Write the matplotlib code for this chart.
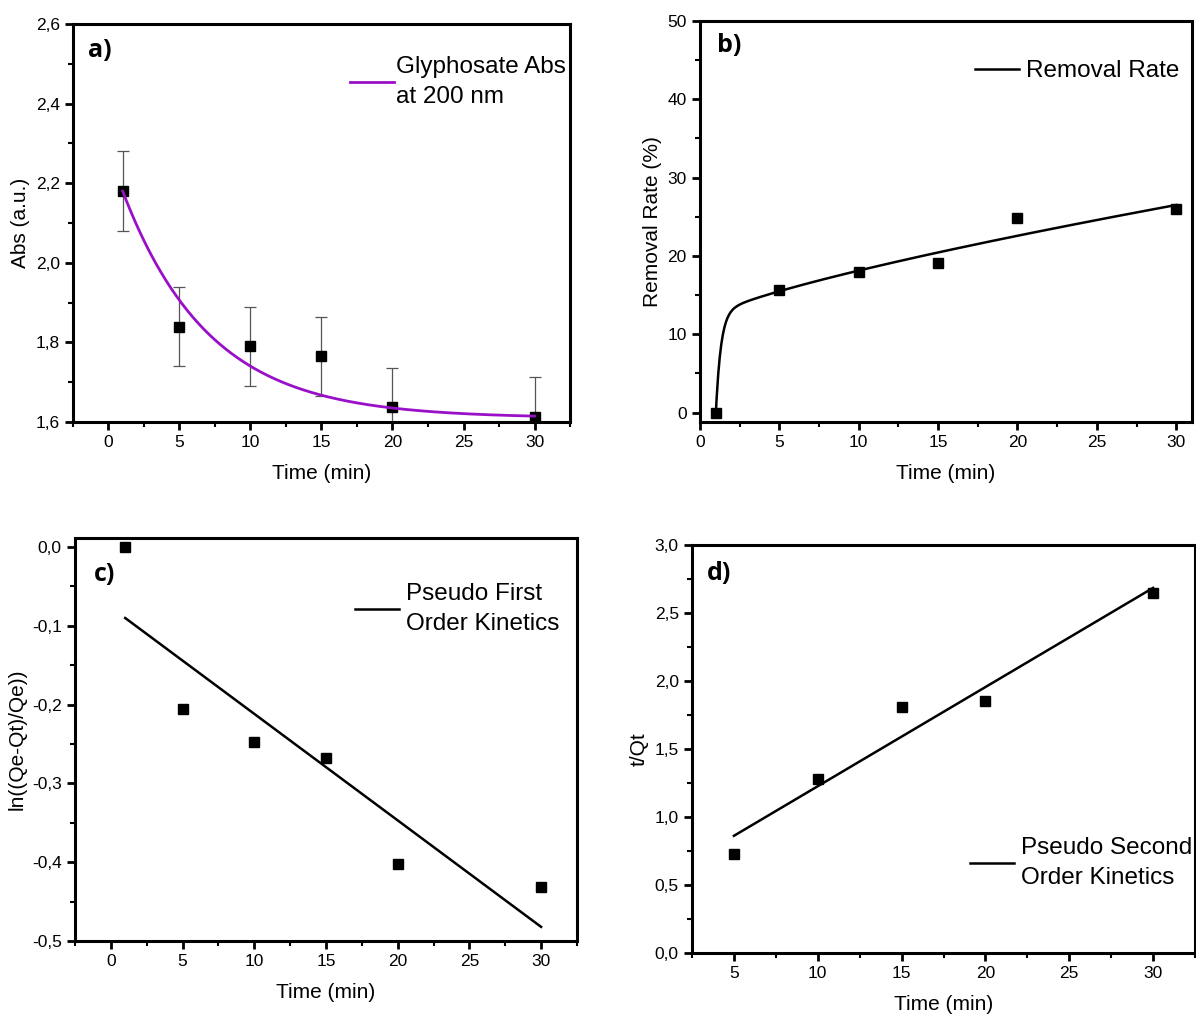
import numpy as np
import matplotlib
matplotlib.use("Agg")
import matplotlib.pyplot as plt
from matplotlib.ticker import MultipleLocator, FuncFormatter

plt.rcParams['font.family'] = ['Liberation Sans', 'DejaVu Sans']

# ------------------------
# data
# ------------------------
# a) glyphosate absorbance at 200 nm
time_a = [1, 5, 10, 15, 20, 30]
abs_a = [2.18, 1.84, 1.79, 1.765, 1.637, 1.613]
abs_err = [0.1, 0.1, 0.1, 0.1, 0.1, 0.1]
# exponential decay fit: y0 + A*exp(-(t-1)/tau)
fit_a_y0, fit_a_amp, fit_a_tau = 1.61, 0.57, 6.1

# b) removal rate
time_b = [1, 5, 10, 15, 20, 30]
removal_b = [0.0, 15.7, 18.0, 19.1, 24.9, 26.0]
# fit: A*(1-exp(-k(t-1))) + c*(t-1)^m
fit_b_amp, fit_b_k, fit_b_c, fit_b_m = 12.5, 3.2, 1.02, 0.778

# c) pseudo first order
time_c = [1, 5, 10, 15, 20, 30]
ln_c = [0.0, -0.205, -0.247, -0.268, -0.402, -0.432]

# d) pseudo second order
time_d = [5, 10, 15, 20, 30]
tq_d = [0.73, 1.28, 1.81, 1.85, 2.65]

LEG_FS = 17.5


def comma_fmt(decimals):
    return FuncFormatter(lambda v, p: f"{v:.{decimals}f}".replace(".", ","))


def style_axes(ax, xmaj, xmin, ymaj, ymin):
    for sp in ax.spines.values():
        sp.set_linewidth(2.2)
    ax.xaxis.set_major_locator(MultipleLocator(xmaj))
    ax.xaxis.set_minor_locator(MultipleLocator(xmin))
    ax.yaxis.set_major_locator(MultipleLocator(ymaj))
    ax.yaxis.set_minor_locator(MultipleLocator(ymin))
    ax.tick_params(which='major', direction='out', length=6, width=2,
                   labelsize=12.5, top=False, right=False)
    ax.tick_params(which='minor', direction='out', length=3.5, width=1.5,
                   top=False, right=False)
    ax.set_xlabel("Time (min)", fontsize=15, labelpad=10)


def add_legend(ax, x, y, pad=0.3):
    leg = ax.legend(loc='center left', bbox_to_anchor=(x, y), frameon=False,
                    fontsize=LEG_FS, handlelength=1.8, handletextpad=pad,
                    borderpad=0, borderaxespad=0)
    for t in leg.get_texts():
        t.set_linespacing(1.45)


def panel_label(ax, txt, x, y):
    ax.text(x, y, txt, transform=ax.transAxes, fontsize=18, fontweight='bold',
            family='Open Sans', ha='left', va='top')


fig = plt.figure(figsize=(11.96, 10.17), dpi=100)
ax_a = fig.add_axes([0.061, 0.585, 0.4156, 0.3914])
ax_b = fig.add_axes([0.5853, 0.585, 0.4114, 0.3944])
ax_c = fig.add_axes([0.0627, 0.0747, 0.4197, 0.3963])
ax_d = fig.add_axes([0.5786, 0.0629, 0.4206, 0.4012])

# ---- a)
ax_a.errorbar(time_a, abs_a, yerr=abs_err, fmt='none', ecolor='#555555',
              elinewidth=0.9, capsize=4.5, capthick=0.9, zorder=2)
ax_a.plot(time_a, abs_a, 's', color='black', markersize=7, zorder=3)
tt = np.linspace(time_a[0], time_a[-1], 300)
ax_a.plot(tt, fit_a_y0 + fit_a_amp * np.exp(-(tt - 1) / fit_a_tau),
          color='#9A0FC8', lw=2.0, label="Glyphosate Abs\nat 200 nm", zorder=4)
ax_a.set_xlim(-2.5, 32.5)
ax_a.set_ylim(1.6, 2.6)
style_axes(ax_a, 5, 2.5, 0.2, 0.1)
ax_a.yaxis.set_major_formatter(comma_fmt(1))
ax_a.set_ylabel("Abs (a.u.)", fontsize=15)
add_legend(ax_a, 0.557, 0.855, pad=0.1)
panel_label(ax_a, "a)", 0.03, 0.965)

# ---- b)
ax_b.plot(time_b, removal_b, 's', color='black', markersize=7, zorder=3)
tb = np.linspace(time_b[0], time_b[-1], 600)
fit_b = fit_b_amp * (1 - np.exp(-fit_b_k * (tb - 1))) + fit_b_c * (tb - 1) ** fit_b_m
ax_b.plot(tb, fit_b, color='black', lw=1.8, label="Removal Rate")
ax_b.set_xlim(0, 31)
ax_b.set_ylim(-1.2, 50)
style_axes(ax_b, 5, 2.5, 10, 5)
ax_b.set_ylabel("Removal Rate (%)", fontsize=15)
add_legend(ax_b, 0.559, 0.875)
panel_label(ax_b, "b)", 0.035, 0.97)

# ---- c)
ax_c.plot(time_c, ln_c, 's', color='black', markersize=7, zorder=3)
kc = np.polyfit(time_c, ln_c, 1)
xc = np.array([time_c[0], time_c[-1]])
ax_c.plot(xc, np.polyval(kc, xc), color='black', lw=1.8,
          label="Pseudo First\nOrder Kinetics")
ax_c.set_xlim(-2.5, 32.5)
ax_c.set_ylim(-0.5, 0.0115)
style_axes(ax_c, 5, 2.5, 0.1, 0.05)
ax_c.yaxis.set_major_formatter(comma_fmt(1))
ax_c.set_ylabel("ln((Qe-Qt)/Qe))", fontsize=15)
add_legend(ax_c, 0.558, 0.824)
panel_label(ax_c, "c)", 0.038, 0.94)

# ---- d)
ax_d.plot(time_d, tq_d, 's', color='black', markersize=7, zorder=3)
kd = np.polyfit(time_d, tq_d, 1)
xd = np.array([time_d[0], time_d[-1]])
ax_d.plot(xd, np.polyval(kd, xd), color='black', lw=1.8,
          label="Pseudo Second\nOrder Kinetics")
ax_d.set_xlim(2.5, 32.5)
ax_d.set_ylim(0, 3.0)
style_axes(ax_d, 5, 2.5, 0.5, 0.25)
ax_d.yaxis.set_major_formatter(comma_fmt(1))
ax_d.set_ylabel("t/Qt", fontsize=15)
add_legend(ax_d, 0.553, 0.221)
panel_label(ax_d, "d)", 0.03, 0.96)

fig.savefig("out.png", dpi=100)
